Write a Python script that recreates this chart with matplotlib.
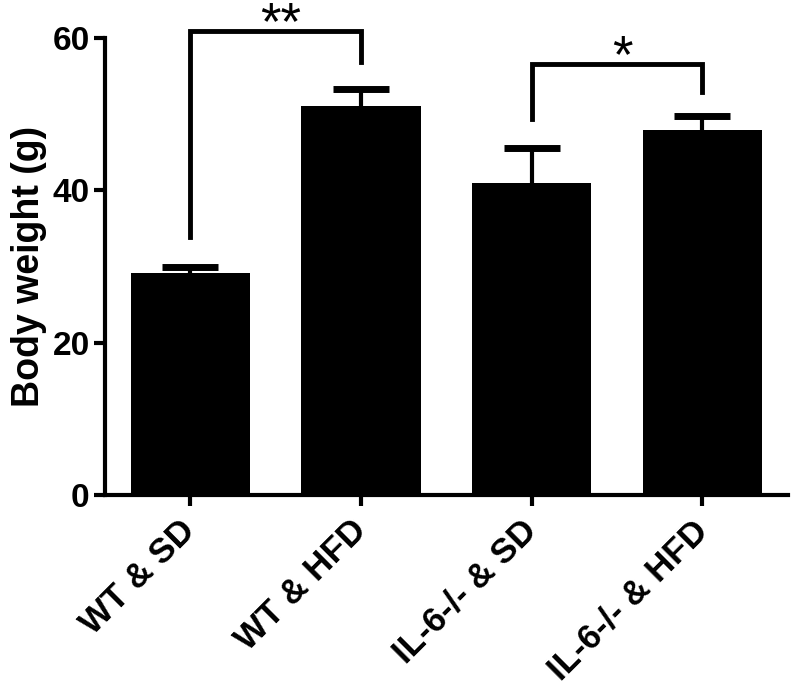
import matplotlib.pyplot as plt

plt.rcParams['font.family'] = ['Liberation Sans', 'DejaVu Sans']
plt.rcParams['font.weight'] = 'bold'

# data
groups = ['WT & SD', 'WT & HFD', 'IL-6-/- & SD', 'IL-6-/- & HFD']
means = [29.1, 51.1, 41.0, 47.9]
sem = [0.8, 2.2, 4.5, 1.8]

# significance brackets: (left group, right group, top, left leg end, right leg end, label)
brackets = [
    (0, 1, 60.9, 33.9, 56.8, '**'),
    (2, 3, 56.6, 49.3, 52.9, '*'),
]

fig = plt.figure(figsize=(7.92, 6.87), dpi=100)
ax = fig.add_axes([0.1326, 0.2795, 0.862, 0.6652])

x = list(range(len(groups)))
# symmetric error bars drawn under the bars so only the upper half shows
ax.errorbar(x, means, yerr=sem, fmt='none', ecolor='black',
            elinewidth=3, capsize=20, capthick=5, zorder=1)
ax.bar(x, means, width=0.7, color='black', zorder=2)

for i, j, top, yl, yr, lab in brackets:
    ax.plot([i, i, j, j], [yl, top, top, yr], color='black', lw=3.5,
            solid_joinstyle='miter', clip_on=False)
    ax.text((i + j) / 2 + 0.03, top - 1.1, lab, ha='center', va='baseline',
            fontsize=38, fontweight='normal')

ax.set_xlim(-0.5, 3.5)
ax.set_ylim(0, 60)
ax.set_yticks([0, 20, 40, 60])
ax.set_xticks(x)
ax.set_xticklabels(groups, rotation=45, ha='right', va='center',
                   rotation_mode='anchor')
ax.tick_params(axis='both', width=3, length=8)
ax.tick_params(axis='x', pad=14, labelsize=25)
ax.tick_params(axis='y', pad=3, labelsize=24)
for lab in ax.get_xticklabels() + ax.get_yticklabels():
    lab.set_fontweight('bold')
ax.set_ylabel('Body weight (g)', fontsize=27, fontweight='bold', labelpad=4)

for s in ['top', 'right']:
    ax.spines[s].set_visible(False)
for s in ['left', 'bottom']:
    ax.spines[s].set_linewidth(3)

fig.savefig('out.png', dpi=100)
